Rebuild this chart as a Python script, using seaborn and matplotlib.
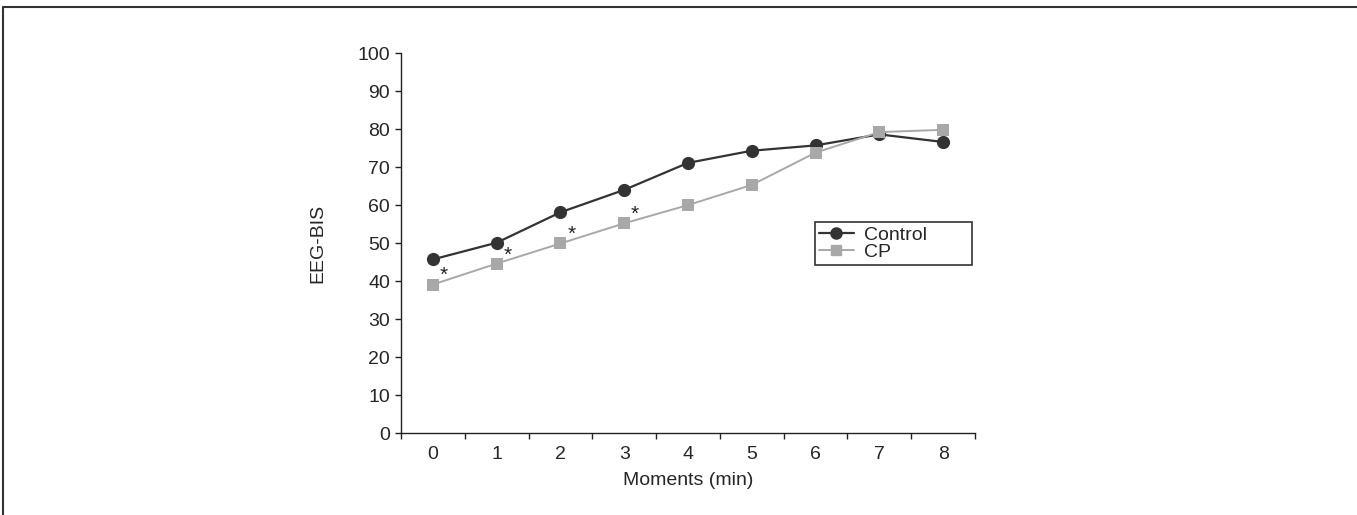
import numpy as np
import pandas as pd
import matplotlib
matplotlib.use("Agg")
import matplotlib.pyplot as plt
from matplotlib.lines import Line2D
import seaborn as sns

# data
moments = [0, 1, 2, 3, 4, 5, 6, 7, 8]
control = [45.7, 50.1, 58.1, 64.0, 71.1, 74.3, 75.7, 78.6, 76.6]
cp      = [39.1, 44.6, 49.9, 55.2, 60.0, 65.3, 73.8, 79.2, 79.8]
star_at = [0, 1, 2, 3]   # CP points marked with *

df = pd.DataFrame({
    "moment": moments * 2,
    "bis":    control + cp,
    "group":  ["Control"] * len(moments) + ["CP"] * len(moments),
})

sns.set_style("white")
plt.rcParams["font.family"] = ["Liberation Sans", "DejaVu Sans"]
FS = 14

fig = plt.figure(figsize=(13.57, 5.15), dpi=100)
ax = fig.add_axes([0.2955, 0.159, 0.423, 0.738])

pal = {"Control": "#333333", "CP": "#a8a8a8"}
sns.lineplot(
    data=df, x="moment", y="bis", hue="group", style="group",
    palette=pal, markers={"Control": "o", "CP": "s"}, dashes=False,
    markeredgewidth=0, ax=ax, legend=False,
)
for ln, ms, lw in zip(ax.lines, [9.5, 8], [1.6, 1.4]):
    ln.set_markersize(ms)
    ln.set_linewidth(lw)

for i in star_at:
    ax.text(moments[i] + 0.17, cp[i] - 0.2, "*", fontsize=FS + 1,
            ha="center", va="bottom", color="#222222")

ax.set_xlim(-0.5, 8.5)
ax.set_ylim(0, 100)
ax.set_yticks(range(0, 101, 10))
ax.set_xticks(moments)
ax.set_xticks(np.arange(-0.5, 9, 1), minor=True)
ax.tick_params(axis="x", which="major", length=0, labelsize=FS, pad=9)
ax.tick_params(axis="x", which="minor", length=4, width=1, direction="out",
               color="#222222", bottom=True)
ax.tick_params(axis="y", length=4, width=1, direction="out", labelsize=FS,
               color="#222222", left=True, pad=4)
ax.set_xlabel("Moments (min)", fontsize=FS, labelpad=7)
ax.set_ylabel("EEG-BIS", fontsize=FS, labelpad=22)
sns.despine(ax=ax)
for s in ("left", "bottom"):
    ax.spines[s].set_color("#222222")
    ax.spines[s].set_linewidth(1)

handles = [
    Line2D([], [], color=pal["Control"], marker="o", markersize=8, lw=1.6),
    Line2D([], [], color=pal["CP"], marker="s", markersize=7, lw=1.4),
]
# box is wider than its content in the reference -> expand mode
leg = ax.legend(handles, ["Control", "CP"], loc="upper left",
                bbox_to_anchor=(0.721, 0.555, 0.274, 0.0), mode="expand",
                borderaxespad=0, fontsize=FS, frameon=True, fancybox=False,
                handlelength=1.8, handletextpad=0.55, labelspacing=0.0,
                borderpad=0.2)
leg.get_frame().set_edgecolor("black")
leg.get_frame().set_linewidth(1.2)

# outer frame (top and left edges only)
fig.add_artist(Line2D([0.0025, 1], [0.986, 0.986], color="#333333", lw=1.5,
                      transform=fig.transFigure))
fig.add_artist(Line2D([0.0025, 0.0025], [0, 0.986], color="#333333", lw=1.5,
                      transform=fig.transFigure))

plt.savefig("out.png", dpi=100)
plt.close()
